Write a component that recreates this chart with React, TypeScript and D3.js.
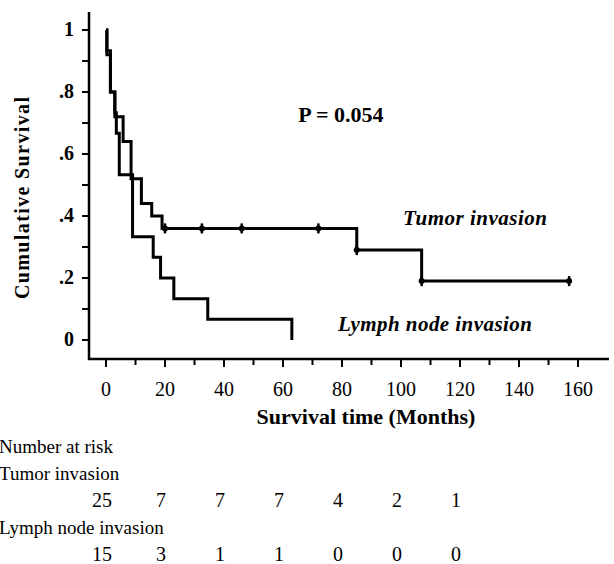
import { useEffect, useRef } from 'react';
import * as d3 from 'd3';

// Kaplan-Meier steps (months, cumulative survival)
const tumorTimes = [0, 0.3, 1.5, 3, 5.8, 8.5, 12, 15.5, 19, 85, 107, 157];
const tumorSurv = [1, 0.92, 0.8, 0.72, 0.64, 0.52, 0.44, 0.4, 0.36, 0.29, 0.19, 0.19];
const tumorCensored = [20, 32.5, 46, 72, 85, 107, 157];

const lymphTimes = [0, 0.3, 1.5, 3, 3.5, 4.5, 9, 16, 18.5, 23, 34.5, 63, 63];
const lymphSurv = [1, 0.933, 0.8, 0.733, 0.667, 0.533, 0.333, 0.267, 0.2, 0.133, 0.067, 0, 0];

const xTicks = [0, 20, 40, 60, 80, 100, 120, 140, 160];
const yTicks = [0, 0.2, 0.4, 0.6, 0.8, 1];
const yTickLabels = ['0', '.2', '.4', '.6', '.8', '1'];

const riskTimes = [0, 20, 40, 60, 80, 100, 120];
const riskTumor = [25, 7, 7, 7, 4, 2, 1];
const riskLymph = [15, 3, 1, 1, 0, 0, 0];

const FONT = '"Liberation Serif", "Times New Roman", serif';

const App = () => {
    const ref = useRef<SVGSVGElement>(null);

    useEffect(() => {
        const svg = d3.select(ref.current);
        svg.selectAll('*').remove();

        const x = d3.scaleLinear().domain([0, 160]).range([106, 578]);
        const y = d3.scaleLinear().domain([0, 1]).range([340, 30]);

        const axisX = 89;
        const axisY = 359;

        // y axis
        svg.append('line')
            .attr('x1', axisX).attr('x2', axisX)
            .attr('y1', 12).attr('y2', axisY + 1)
            .attr('stroke', '#000').attr('stroke-width', 2.5);
        svg.append('g')
            .selectAll('line')
            .data(d3.range(0, 1.01, 0.1))
            .enter()
            .append('line')
            .attr('x1', axisX - 7).attr('x2', axisX)
            .attr('y1', d => y(d)).attr('y2', d => y(d))
            .attr('stroke', '#000').attr('stroke-width', 2);
        svg.append('g')
            .selectAll('text')
            .data(yTicks)
            .enter()
            .append('text')
            .attr('x', 74)
            .attr('y', d => y(d) + 6)
            .attr('text-anchor', 'end')
            .attr('font-family', FONT)
            .attr('font-weight', 'bold')
            .attr('font-size', 20)
            .text((d, i) => yTickLabels[i]);

        // x axis
        svg.append('line')
            .attr('x1', axisX - 1).attr('x2', 609)
            .attr('y1', axisY).attr('y2', axisY)
            .attr('stroke', '#000').attr('stroke-width', 2.5);
        svg.append('g')
            .selectAll('line')
            .data(d3.range(0, 161, 10))
            .enter()
            .append('line')
            .attr('x1', d => x(d)).attr('x2', d => x(d))
            .attr('y1', axisY).attr('y2', d => axisY + (d % 20 === 0 ? 8 : 6))
            .attr('stroke', '#000').attr('stroke-width', 2);
        svg.append('g')
            .selectAll('text')
            .data(xTicks)
            .enter()
            .append('text')
            .attr('x', d => x(d))
            .attr('y', 396)
            .attr('text-anchor', 'middle')
            .attr('font-family', FONT)
            .attr('font-size', 20)
            .text(d => d);

        // axis titles
        svg.append('text')
            .attr('transform', 'translate(29,198) rotate(-90)')
            .attr('text-anchor', 'middle')
            .attr('font-family', FONT)
            .attr('font-weight', 'bold')
            .attr('font-size', 20)
            .attr('textLength', 202)
            .text('Cumulative Survival');
        svg.append('text')
            .attr('x', 366)
            .attr('y', 424)
            .attr('text-anchor', 'middle')
            .attr('font-family', FONT)
            .attr('font-weight', 'bold')
            .attr('font-size', 22)
            .text('Survival time (Months)');

        // survival curves
        const step = d3.line<[number, number]>()
            .x(d => x(d[0]))
            .y(d => y(d[1]))
            .curve(d3.curveStepAfter);

        const tumor = tumorTimes.map((t, i) => [t, tumorSurv[i]] as [number, number]);
        const lymph = lymphTimes.map((t, i) => [t, lymphSurv[i]] as [number, number]);

        svg.append('path')
            .attr('d', step(lymph))
            .attr('fill', 'none')
            .attr('stroke', '#000')
            .attr('stroke-width', 3);
        svg.append('path')
            .attr('d', step(tumor))
            .attr('fill', 'none')
            .attr('stroke', '#000')
            .attr('stroke-width', 3);

        const survAt = (t: number) => tumorSurv[d3.bisectRight(tumorTimes, t) - 1];
        const marks = svg.append('g')
            .selectAll('g')
            .data(tumorCensored)
            .enter()
            .append('g')
            .attr('transform', d => `translate(${x(d)},${y(survAt(d))})`);
        marks.append('line')
            .attr('y1', -5).attr('y2', 5)
            .attr('stroke', '#000').attr('stroke-width', 2.5);
        marks.append('circle')
            .attr('r', 3)
            .attr('fill', '#000');

        // annotations
        svg.append('text')
            .attr('x', 341)
            .attr('y', 122)
            .attr('text-anchor', 'middle')
            .attr('font-family', FONT)
            .attr('font-weight', 'bold')
            .attr('font-size', 22)
            .text('P = 0.054');
        svg.append('text')
            .attr('x', 475)
            .attr('y', 225)
            .attr('text-anchor', 'middle')
            .attr('font-family', FONT)
            .attr('font-weight', 'bold')
            .attr('font-style', 'italic')
            .attr('font-size', 21)
            .attr('textLength', 144)
            .text('Tumor invasion');
        svg.append('text')
            .attr('x', 435)
            .attr('y', 331)
            .attr('text-anchor', 'middle')
            .attr('font-family', FONT)
            .attr('font-weight', 'bold')
            .attr('font-style', 'italic')
            .attr('font-size', 21)
            .attr('textLength', 194)
            .text('Lymph node invasion');

        // number at risk table
        const rows = [
            { label: 'Number at risk', y: 453 },
            { label: 'Tumor invasion', y: 480 },
            { label: 'Lymph node invasion', y: 534 },
        ];
        svg.append('g')
            .selectAll('text')
            .data(rows)
            .enter()
            .append('text')
            .attr('x', -1)
            .attr('y', d => d.y)
            .attr('font-family', FONT)
            .attr('font-size', 19)
            .text(d => d.label);

        [{ vals: riskTumor, y: 507 }, { vals: riskLymph, y: 561 }].forEach(row => {
            svg.append('g')
                .selectAll('text')
                .data(row.vals)
                .enter()
                .append('text')
                .attr('x', (d, i) => x(riskTimes[i]) - 4)
                .attr('y', row.y)
                .attr('text-anchor', 'middle')
                .attr('font-family', FONT)
                .attr('font-size', 20)
                .text(d => d);
        });
    }, []);

    return (
        <svg
            ref={ref}
            width={614}
            height={564}
            style={{ position: 'absolute', left: 0, top: 0, background: '#fff' }}
        />
    );
};

export default App;
